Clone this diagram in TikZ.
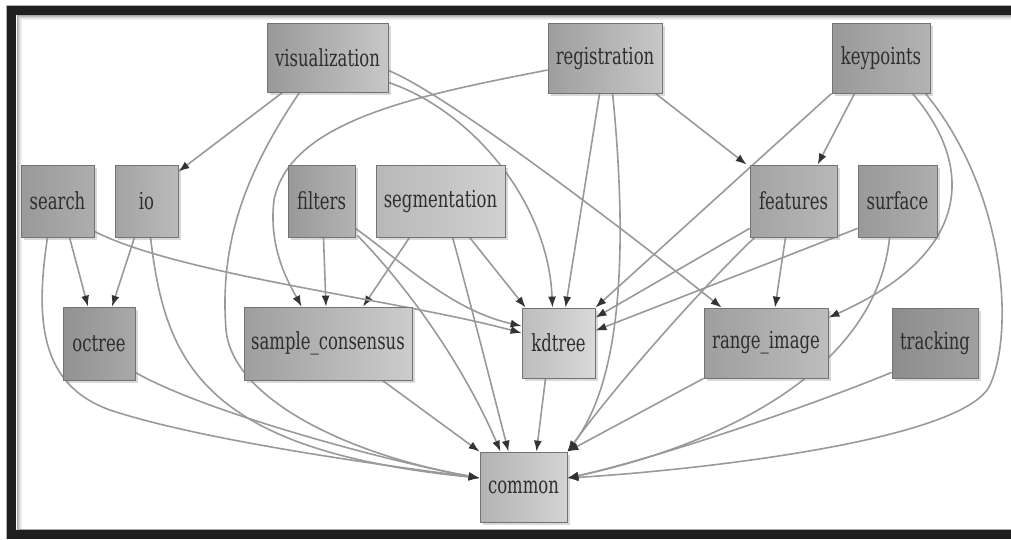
\documentclass[tikz,border=0pt]{standalone}
\usepackage{fontspec}
\setmainfont{DejaVu Serif}[FakeStretch=0.7]
\usetikzlibrary{arrows.meta,calc,shadows}
\pgfdeclarelayer{background}
\pgfsetlayers{background,main}
\begin{document}
\begin{tikzpicture}[x=1pt,y=-1pt,
  box/.style n args={4}{draw=black!55, line width=0.8pt, left color=#1, right color=#2,
     minimum width=#3, minimum height=#4, inner sep=0pt, text=black!82,
     font=\fontsize{23.5}{26}\selectfont,
     drop shadow={opacity=0.3, shadow xshift=3pt, shadow yshift=-3pt}},
  dep/.style={draw=black!40, line width=1.6pt, -{Latex[length=11pt,width=8pt,color=black!80]}}]
\useasboundingbox (0,0) rectangle (1011,539);
% frame
\draw[black!30, line width=1pt] (6,539) -- (6,5) -- (1011,5);
\fill[black!88] (7,6) rectangle (1011,15);
\fill[black!88] (7,6) rectangle (16,539);
\fill[black!88] (7,530) rectangle (1011,539);
\draw[black!35, line width=1pt] (16.5,529.5) -- (1011,529.5);
\foreach \i/\o in {0/0.35,1/0.25,2/0.17,3/0.1,4/0.05}{
  \draw[black, opacity=\o, line width=1pt] (17.5+\i,529) -- (17.5+\i,15.5+\i) -- (1011,15.5+\i);
}
% nodes
\node[box={black!40}{black!22}{121pt}{69pt}] (vis) at (327.5,57.5) {visualization};
\node[box={black!38}{black!22}{114pt}{70pt}] (reg) at (605,58) {registration};
\node[box={black!40}{black!30}{98pt}{70pt}] (kp) at (881,58) {keypoints};
\node[box={black!40}{black!32}{73pt}{72pt}] (search) at (57.5,201) {search};
\node[box={black!36}{black!27}{63pt}{72pt}] (io) at (146.5,201) {io};
\node[box={black!40}{black!30}{67pt}{72pt}] (filt) at (321.5,201) {filters};
\node[box={black!28}{black!18}{129pt}{72pt}] (seg) at (440.5,201) {segmentation};
\node[box={black!36}{black!28}{87pt}{72pt}] (feat) at (793.5,201) {features};
\node[box={black!40}{black!32}{79pt}{72pt}] (surf) at (897.5,201) {surface};
\node[box={black!43}{black!34}{72pt}{73pt}] (oct) at (99,343.5) {octree};
\node[box={black!38}{black!20}{168pt}{73pt}] (sac) at (328,343.5) {sample\_consensus};
\node[box={black!26}{black!15}{73pt}{70pt}] (kd) at (558.5,343) {kdtree};
\node[box={black!38}{black!26}{124pt}{70pt}] (ri) at (766,343) {range\_image};
\node[box={black!45}{black!37}{86pt}{70pt}] (trk) at (935,343) {tracking};
\node[box={black!30}{black!17}{87pt}{70pt}] (com) at (523.5,487) {common};
% edges
\begin{pgfonlayer}{background}
% visualization
\draw[dep] ($(vis.south west)+(16,0)$) -- ($(io.north east)+(0,7)$);
\draw[dep] ($(vis.south west)+(33,0)$) .. controls (240,180) and (220,250) .. (226,330)
   .. controls (233,400) and (350,455) .. ($(com.west)+(0,-9)$);
\draw[dep] ($(vis.south east)+(0,-10)$) .. controls (470,110) and (548,200) .. ($(kd.north)+(-6,0)$);
\draw[dep] ($(vis.east)+(0,13)$) .. controls (450,95) and (650,250) .. ($(ri.north west)+(18,0)$);
% registration
\draw[dep] ($(reg.west)+(0,12)$) .. controls (420,95) and (290,120) .. (274,200)
   .. controls (268,250) and (290,285) .. ($(sac.north west)+(58,0)$);
\draw[dep] ($(reg.south west)+(52,0)$) -- ($(kd.north)+(7,0)$);
\draw[dep] ($(reg.south west)+(65,0)$) .. controls (628,250) and (622,380) .. (com.north east);
\draw[dep] ($(reg.south east)+(-7,0)$) -- ($(feat.north west)+(-3,0)$);
% keypoints
\draw[dep] (kp.south west) -- (kd.north east);
\draw[dep] ($(kp.south west)+(23,0)$) -- ($(feat.north west)+(68,0)$);
\draw[dep] ($(kp.south east)+(-18,0)$) .. controls (970,160) and (980,250) .. ($(ri.north east)+(0,10)$);
\draw[dep] ($(kp.south east)+(-5,0)$) .. controls (1005,190) and (1015,330) .. (990,385)
   .. controls (965,440) and (700,470) .. ($(com.east)+(0,-9)$);
% features
\draw[dep] ($(feat.south west)+(0,-9)$) -- ($(kd.north east)+(0,10)$);
\draw[dep] ($(feat.south west)+(5,0)$) .. controls (700,290) and (620,380) .. (com.north east);
\draw[dep] ($(feat.south)+(-8,0)$) -- ($(ri.north)+(9,0)$);
% surface
\draw[dep] ($(surf.south west)+(0,-9)$) -- ($(kd.north east)+(0,23)$);
\draw[dep] ($(surf.south west)+(32,0)$) .. controls (875,380) and (700,450) .. ($(com.east)+(0,-9)$);
% tracking, range_image, kdtree, sample_consensus
\draw[dep] ($(trk.south west)+(0,-6)$) .. controls (800,410) and (650,460) .. ($(com.east)+(0,-9)$);
\draw[dep] (ri.south west) -- (com.north east);
\draw[dep] ($(kd.south)+(-13,0)$) -- ($(com.north)+(13,0)$);
\draw[dep] ($(sac.south east)+(-30,0)$) -- (com.north west);
% segmentation
\draw[dep] ($(seg.south west)+(34,0)$) -- ($(sac.north)+(35,0)$);
\draw[dep] ($(seg.south west)+(77,0)$) .. controls (475,320) and (495,400) .. ($(com.north)+(-15,0)$);
\draw[dep] ($(seg.south west)+(94,0)$) -- ($(kd.north west)+(4,0)$);
% filters
\draw[dep] ($(filt.south)+(2,0)$) -- ($(sac.north)+(-2,0)$);
\draw[dep] ($(filt.south east)+(0,-9)$) .. controls (400,260) and (450,310) .. ($(kd.west)+(0,-17)$);
\draw[dep] ($(filt.south east)+(2,-2)$) .. controls (420,300) and (470,380) .. ($(com.north)+(-23,0)$);
% search
\draw[dep] ($(search.south)+(12,0)$) -- ($(oct.north)+(-11,0)$);
\draw[dep] ($(search.south)+(-10,0)$) .. controls (35,320) and (40,385) .. (110,410)
   .. controls (200,440) and (380,465) .. ($(com.west)+(0,-9)$);
\draw[dep] ($(search.south east)+(0,-6)$) .. controls (180,275) and (400,300) .. ($(kd.west)+(0,-10)$);
% io
\draw[dep] ($(io.south)+(-12,0)$) -- ($(oct.north)+(13,0)$);
\draw[dep] ($(io.south)+(4,0)$) .. controls (165,360) and (200,450) .. ($(com.west)+(0,-9)$);
% octree
\draw[dep] ($(oct.south east)+(0,-8)$) .. controls (200,410) and (380,460) .. ($(com.west)+(0,-9)$);
\end{pgfonlayer}
\end{tikzpicture}
\end{document}
